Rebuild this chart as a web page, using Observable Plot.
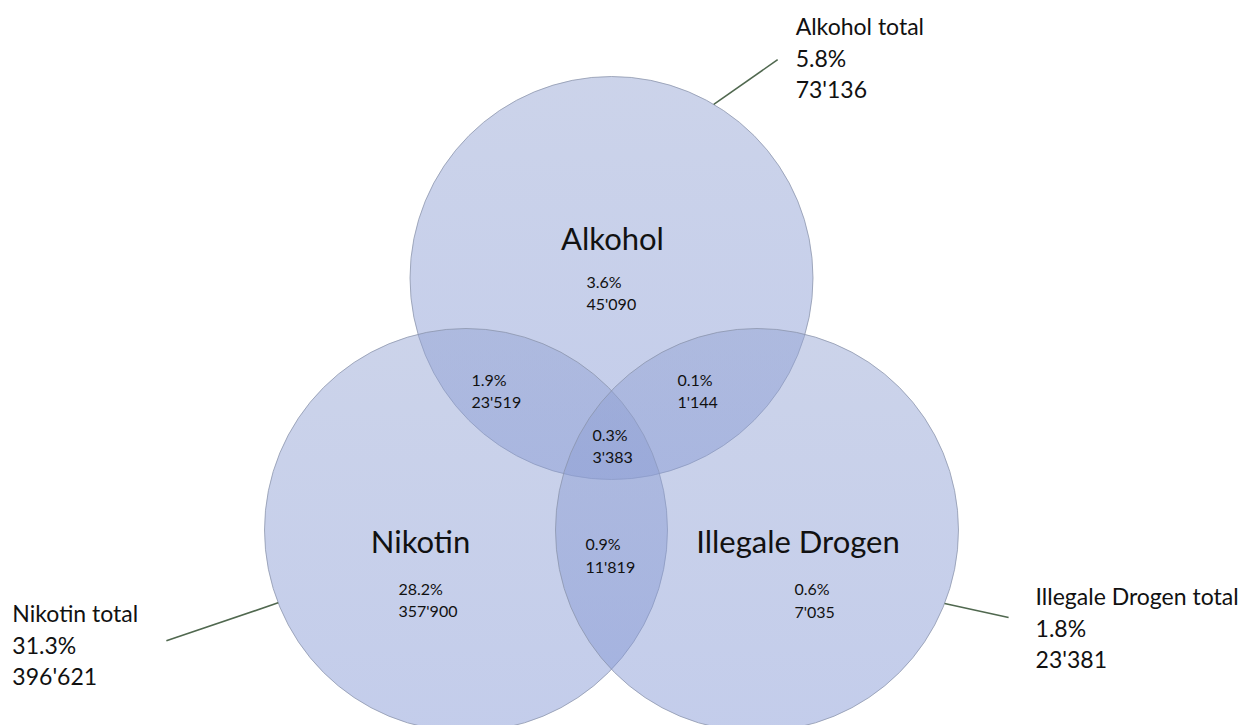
<!DOCTYPE html>
<html>
<head>
<meta charset="utf-8">
<script src="https://cdn.jsdelivr.net/npm/d3@7"></script>
<script src="https://cdn.jsdelivr.net/npm/@observablehq/plot@0.6"></script>
<style>
  html, body { margin: 0; padding: 0; background: #fff; }
  #chart { width: 1250px; height: 725px; overflow: hidden; }
</style>
</head>
<body>
<div id="chart"></div>
<script>
// ---------- data ----------
const sets = ["Alkohol", "Nikotin", "Illegale Drogen"];
const setTotalPct = ["5.8%", "31.3%", "1.8%"];
const setTotalCount = ["73'136", "396'621", "23'381"];

const regions = ["Alkohol", "Nikotin", "Illegale Drogen",
  "Alkohol & Nikotin", "Alkohol & Illegale Drogen", "Nikotin & Illegale Drogen",
  "Alkohol & Nikotin & Illegale Drogen"];
const regionPct = ["3.6%", "28.2%", "0.6%", "1.9%", "0.1%", "0.9%", "0.3%"];
const regionCount = ["45'090", "357'900", "7'035", "23'519", "1'144", "11'819", "3'383"];

// ---------- layout (geometry of the diagram, not data) ----------
const W = 1250, H = 725;
const geo = {cx: 611, cy: 445.5, d: 168, r: 201.5};
const setAngle = [-90, 150, 30];                 // direction of each circle centre from the centroid
const rad = a => a * Math.PI / 180;
const centres = setAngle.map(a => [geo.cx + geo.d * Math.cos(rad(a)), geo.cy + geo.d * Math.sin(rad(a))]);

// label anchor offsets relative to the centroid
const bigOffset = [[1, -205.5], [-191, 97.5], [186.5, 97.5]];
const regionOffset = [[-25, -154], [-213, 153], [183, 153.5], [-140, -56], [66, -56], [-26, 108.5], [-19, -1]];
// leader lines: angle on circle edge, line direction, length; text offset from line end
const leader = [
  {edge: -59.5, dir: -35, len: 78, tdx: 18, tdy: -3},
  {edge: 158.8, dir: 161.3, len: 118, tdx: -154, tdy: 3},
  {edge: 21.4, dir: 12.3, len: 65.5, tdx: 27, tdy: 9}
];

const circleRows = sets.map((s, i) => ({set: s, x: centres[i][0], y: centres[i][1]}));
const bigRows = sets.map((s, i) => ({text: s, x: geo.cx + bigOffset[i][0], y: geo.cy + bigOffset[i][1]}));
const regionRows = regions.map((r, i) => ({
  region: r, text: regionPct[i] + "\n" + regionCount[i],
  x: geo.cx + regionOffset[i][0], y: geo.cy + regionOffset[i][1]
}));
const leaderRows = sets.map((s, i) => {
  const L = leader[i];
  const x1 = centres[i][0] + geo.r * Math.cos(rad(L.edge));
  const y1 = centres[i][1] + geo.r * Math.sin(rad(L.edge));
  const x2 = x1 + L.len * Math.cos(rad(L.dir));
  const y2 = y1 + L.len * Math.sin(rad(L.dir));
  return {set: s, x1, y1, x2, y2,
    tx: x2 + L.tdx, ty: y2 + L.tdy,
    text: s + " total\n" + setTotalPct[i] + "\n" + setTotalCount[i]};
});

const defs = () => {
  const g = d3.create("svg:defs");
  const lg = g.append("linearGradient").attr("id", "vennFill")
    .attr("x1", 0).attr("y1", 0).attr("x2", 0).attr("y2", 1);
  lg.append("stop").attr("offset", "0%").attr("stop-color", "rgb(146,162,210)");
  lg.append("stop").attr("offset", "100%").attr("stop-color", "rgb(128,148,212)");
  return g.node();
};

const font = "Lato, 'Open Sans', sans-serif";

const chart = Plot.plot({
  width: W, height: H,
  margin: 0,
  x: {domain: [0, W], range: [0, W], axis: null},
  y: {domain: [0, H], range: [0, H], axis: null},
  style: {fontFamily: font, background: "#fff", overflow: "visible"},
  marks: [
    defs,
    Plot.dot(circleRows, {x: "x", y: "y", r: geo.r, fill: "url(#vennFill)", fillOpacity: 0.47,
      stroke: "#8a93aa", strokeWidth: 1, strokeOpacity: 0.75}),
    Plot.link(leaderRows, {x1: "x1", y1: "y1", x2: "x2", y2: "y2", stroke: "#50684f", strokeWidth: 1.6}),
    Plot.text(bigRows, {x: "x", y: "y", text: "text", fontSize: 31, fill: "#111", textAnchor: "middle"}),
    Plot.text(regionRows, {x: "x", y: "y", text: "text", fontSize: 16, lineHeight: 1.4,
      fill: "#111", textAnchor: "start"}),
    Plot.text(leaderRows, {x: "tx", y: "ty", text: "text", fontSize: 23, lineHeight: 1.37,
      fill: "#111", textAnchor: "start"})
  ]
});
document.getElementById("chart").appendChild(chart);
</script>
</body>
</html>
